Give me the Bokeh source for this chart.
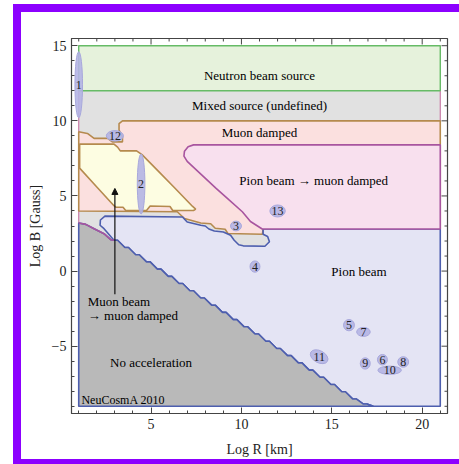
from bokeh.plotting import figure
from bokeh.models import Range1d, FixedTicker, Arrow, NormalHead
from bokeh.embed import file_html
from bokeh.resources import INLINE
from bokeh.core.properties import value

FONT = "Liberation Serif"

# ---- region boundaries in (log R [km], log B [Gauss]) ----
plane_x = [1, 21, 21, 1]
plane_y = [-9, -9, 15, 15]

neutron_x = [1, 21, 21, 1]
neutron_y = [12, 12, 15, 15]

muon_damped_x = [1, 1, 1.48, 1.85, 2.6, 2.86, 3.42, 3.42, 3.23, 3.23, 3.42, 21, 21,
                 11.2, 11.16, 9.25, 9.1, 8.55, 8.3, 7.75, 6.85, 6.45]
muon_damped_y = [4.0, 9.27, 9.16, 8.83, 8.83, 8.6, 8.6, 8.93, 9.38, 9.82, 10.0, 10.0, 2.8,
                 2.8, 2.45, 2.5, 2.78, 2.85, 3.15, 3.2, 3.5, 3.95]

pion_muon_x = [7.35, 21, 21, 11.15, 10.5, 10.05, 9.3, 8.6, 7.8, 7.0, 6.82, 6.85, 7.05]
pion_muon_y = [8.4, 8.4, 2.8, 2.8, 3.3, 3.95, 4.75, 5.5, 6.4, 7.3, 7.65, 7.98, 8.28]

muon_beam_x = [1.05, 2.95, 3.15, 3.3, 4.2, 4.5, 5.4, 6.3, 7.3, 7.47, 7.35, 6.2, 6.05,
               4.95, 4.75, 3.6, 3.45, 3.05, 2.95, 2.0, 1.05]
muon_beam_y = [8.45, 8.45, 8.25, 8.0, 8.0, 7.75, 6.65, 5.55, 4.3, 4.12, 4.03, 4.03, 4.3,
               4.33, 4.03, 4.03, 4.25, 4.25, 4.35, 5.6, 6.85]

# staircase edge between accelerating and non-accelerating sources
edge_x = [2.95, 3.15, 3.55, 3.75, 4.15, 4.35, 4.75, 4.95, 5.35, 5.55, 5.95, 6.15,
          6.55, 6.75, 7.15, 7.35, 7.75, 7.95, 8.35, 8.55, 8.95, 9.15, 9.55, 9.75,
          10.15, 10.35, 10.75, 10.95, 11.35, 11.55, 11.95, 12.15, 12.55, 12.75,
          13.15, 13.35, 13.75, 13.95, 14.35, 14.55, 14.95, 15.15, 15.55, 15.75,
          16.15, 16.35, 16.75, 16.95, 17.3]
edge_y = [2.05, 2.05, 1.57, 1.57, 1.09, 1.09, 0.61, 0.61, 0.13, 0.13, -0.35, -0.35,
          -0.83, -0.83, -1.31, -1.31, -1.79, -1.79, -2.27, -2.27, -2.75, -2.75,
          -3.23, -3.23, -3.71, -3.71, -4.19, -4.19, -4.67, -4.67, -5.15, -5.15,
          -5.63, -5.63, -6.11, -6.11, -6.59, -6.59, -7.07, -7.07, -7.55, -7.55,
          -8.03, -8.03, -8.51, -8.51, -8.85, -8.85, -9.0]

pion_top_x = [21, 11.2, 11.2, 11.45, 11.55, 11.3, 10.1, 9.85, 9.6, 9.4, 9.0, 8.5,
              8.2, 8.0, 7.75, 7.0, 6.74, 2.45, 2.2, 2.18, 2.4]
pion_top_y = [2.8, 2.8, 2.45, 2.3, 1.95, 1.65, 1.68, 1.75, 2.05, 2.38, 2.6, 2.67,
              2.8, 3.0, 3.05, 3.27, 3.6, 3.66, 3.4, 3.05, 2.82]

noacc_top_x = [1, 1.39, 1.85, 2.4, 2.77]
noacc_top_y = [3.2, 3.11, 2.82, 2.49, 2.09]

# ---- sources (ellipses with their numbers) ----
src_id = ["1", "12", "2", "3", "13", "4", "5", "7", "11", "9", "6", "10", "8"]
src_x = [1.0, 3.0, 4.45, 9.7, 12.0, 10.75, 15.95, 16.75, 14.3, 16.85, 17.8, 18.2, 18.95]
src_y = [12.4, 9.0, 5.8, 3.0, 4.0, 0.3, -3.6, -4.05, -5.7, -6.15, -5.9, -6.6, -6.05]
src_w = [0.42, 0.95, 0.42, 0.6, 0.85, 0.55, 0.6, 0.75, 1.05, 0.55, 0.55, 1.3, 0.6]
src_h = [4.4, 0.7, 4.0, 0.65, 0.8, 0.75, 0.75, 0.6, 0.8, 0.75, 0.7, 0.55, 0.7]
src_a = [0, 0, 0, 0, 0, 0, 0, 0, -0.5, 0, 0, 0, 0]

# ---- region names ----
reg_text = ["Neutron beam source", "Mixed source (undefined)", "Muon damped",
            "Pion beam \u2192 muon damped", "Pion beam", "No acceleration"]
reg_x = [11.0, 11.0, 11.0, 14.0, 16.5, 5.0]
reg_y = [13.0, 11.0, 9.2, 6.0, 0.0, -6.07]

x_major = [5, 10, 15, 20]
x_minor = list(range(1, 22))
y_major = [-5, 0, 5, 10, 15]
y_minor = list(range(-9, 16))

X0, X1 = 0.6, 21.4
Y0, Y1 = -9.48, 15.48
FRAME = 376  # frame side in pixels

# purple page frame drawn as shadows, so it does not change the plot's size
PURPLE = "#8c00ff"
frame_shadow = ", ".join(f"{sx}px {sy}px 0px 0px {PURPLE}"
                         for sx, sy in [(-8, 0), (0, -8), (-8, -8), (0, 5), (-8, 5)])

p = figure(width=438, height=447, output_backend="svg", toolbar_location=None,
           x_range=Range1d(X0, X1), y_range=Range1d(Y0, Y1),
           min_border_left=50, min_border_right=12, min_border_top=26,
           min_border_bottom=45, x_axis_label="Log R [km]", y_axis_label="Log B [Gauss]",
           styles={"margin-left": "21px", "margin-top": "12px",
                   "box-shadow": frame_shadow})
p.background_fill_color = "white"
p.border_fill_color = "white"
p.outline_line_color = "#444444"
p.outline_line_width = 1.2
p.grid.visible = False

BLUE = "#4d5eae"
BROWN = "#b58a4e"
MAGENTA = "#a8559f"
GREEN = "#66bb66"

p.patch(plane_x, plane_y, fill_color="#e1e1e1", line_color="#c77aa5", line_width=1.2)
p.patch(muon_damped_x, muon_damped_y, fill_color="#fbe0df", line_color=BROWN, line_width=1.6)

lav_x = pion_top_x + edge_x + [21]
lav_y = pion_top_y + edge_y + [-9]
p.patch(lav_x, lav_y, fill_color="#e4e4f4", line_color=BLUE, line_width=1.6)

dark_x = [1] + noacc_top_x + edge_x
dark_y = [-9] + noacc_top_y + edge_y
p.patch(dark_x, dark_y, fill_color="#b9b9b9", line_color=BLUE, line_width=1.6)
p.line(noacc_top_x + [2.95], noacc_top_y + [2.05], line_color=MAGENTA, line_width=1.6)

p.patch(pion_muon_x, pion_muon_y, fill_color="#f8e0ee", line_color=MAGENTA, line_width=1.6)
p.patch(muon_beam_x, muon_beam_y, fill_color="#fdfde2", line_color=BROWN, line_width=1.6)
p.patch(neutron_x, neutron_y, fill_color="#e6f2dc", line_color=GREEN, line_width=1.4)

p.ellipse(src_x, src_y, width=src_w, height=src_h, angle=src_a,
          fill_color="#b4b4e4", fill_alpha=0.9, line_color="#a8a8dc", line_width=1)
p.text(src_x, src_y, text=src_id, text_align="center", text_baseline="middle",
       text_font=value(FONT), text_font_size="12px", text_color="#222222")

p.text(reg_x, reg_y, text=reg_text, text_align="center", text_baseline="middle",
       text_font=value(FONT), text_font_size="13px", text_color="#000000")
p.text([1.5, 1.5], [-2.0, -2.95], text=["Muon beam", "\u2192 muon damped"],
       text_align="left", text_baseline="middle",
       text_font=value(FONT), text_font_size="13px", text_color="#000000")
p.text([1.15], [-8.55], text=["NeuCosmA 2010"], text_align="left", text_baseline="middle",
       text_font=value(FONT), text_font_size="12px", text_color="#000000")

p.add_layout(Arrow(end=NormalHead(size=6, fill_color="#111111", line_color="#111111"),
                   x_start=3.0, y_start=-1.55, x_end=3.0, y_end=5.5,
                   line_color="#111111", line_width=1.2))

# inward ticks along the top and right edges of the frame
dx = (X1 - X0) / FRAME
dy = (Y1 - Y0) / FRAME
top_len = [6 * dy if t in x_major else 3 * dy for t in x_minor]
p.segment(x0=x_minor, y0=[Y1] * len(x_minor), x1=x_minor,
          y1=[Y1 - L for L in top_len], line_color="#444444", line_width=1)
right_len = [6 * dx if t in y_major else 3 * dx for t in y_minor]
p.segment(x0=[X1] * len(y_minor), y0=y_minor, x1=[X1 - L for L in right_len],
          y1=y_minor, line_color="#444444", line_width=1)

for ax, ticks, minor in [(p.xaxis[0], x_major, x_minor), (p.yaxis[0], y_major, y_minor)]:
    ax.ticker = FixedTicker(ticks=ticks, minor_ticks=minor)
    ax.axis_line_color = "#444444"
    ax.major_tick_line_color = "#444444"
    ax.minor_tick_line_color = "#444444"
    ax.major_tick_in = 6
    ax.major_tick_out = 0
    ax.minor_tick_in = 3
    ax.minor_tick_out = 0
    ax.major_label_text_font = FONT
    ax.major_label_text_font_size = "14px"
    ax.major_label_text_color = "#222222"
    ax.major_label_standoff = 5
    ax.axis_label_text_font = FONT
    ax.axis_label_text_font_size = "14px"
    ax.axis_label_text_font_style = "normal"
    ax.axis_label_text_color = "#222222"
p.yaxis[0].major_label_overrides = {-5: "\u22125"}
p.xaxis[0].axis_label_standoff = 10
p.yaxis[0].axis_label_standoff = 6

open("out.html", "w").write(file_html(p, INLINE))
